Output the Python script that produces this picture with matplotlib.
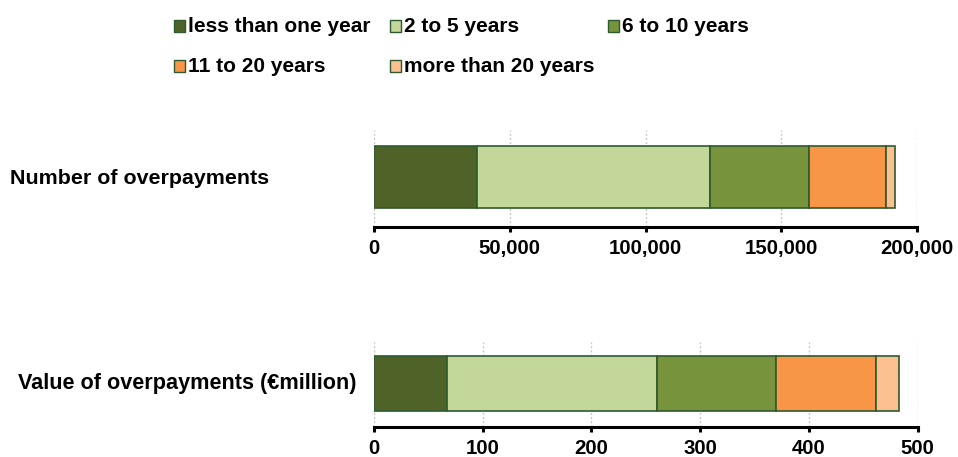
import numpy as np
import matplotlib
matplotlib.use('Agg')
import matplotlib.pyplot as plt
from matplotlib.patches import Rectangle

plt.rcParams['font.family'] = ['Liberation Sans', 'DejaVu Sans']
plt.rcParams['font.weight'] = 'bold'

# overpayments broken down by how long they went undetected
periods = ['less than one year', '2 to 5 years', '6 to 10 years',
           '11 to 20 years', 'more than 20 years']
colours = ['#4f6228', '#c4d79b', '#77933c', '#f79646', '#fac090']
edge_col = '#2f5a2f'

number_vals = [38000, 85800, 36300, 28600, 3300]
value_vals = [67, 193.5, 109, 92, 21.5]

row_labels = ['Number of overpayments', 'Value of overpayments (\u20acmillion)']
number_ticks = [0, 50000, 100000, 150000, 200000]
value_ticks = [0, 100, 200, 300, 400, 500]

fig = plt.figure(figsize=(9.58, 4.57), dpi=100)
W, H = 958, 457

def px_axes(x0, y0, x1, y1):
    return fig.add_axes([x0 / W, 1 - y1 / H, (x1 - x0) / W, (y1 - y0) / H])

ax1 = px_axes(374, 130, 917, 226.5)
ax2 = px_axes(374, 342, 917.5, 427)

def stacked(ax, vals, ticks, ylim, fmt):
    left = 0
    for v, c in zip(vals, colours):
        ax.barh(0, v, left=left, height=1.0, color=c, edgecolor=edge_col, linewidth=1.2, zorder=3)
        left += v
    ax.set_xlim(ticks[0], ticks[-1])
    ax.set_ylim(*ylim)
    ax.set_xticks(ticks)
    ax.set_xticklabels([fmt(t) for t in ticks], fontsize=14.7, fontweight='bold')
    ax.set_yticks([])
    for s in ['top', 'left', 'right']:
        ax.spines[s].set_visible(False)
    ax.spines['bottom'].set_linewidth(2.2)
    ax.tick_params(axis='x', direction='out', length=3.5, width=2.2, pad=5.5)
    ax.grid(axis='x', linestyle=(0, (1.5, 1.5)), color='#c8c8c8', linewidth=1, zorder=0)
    ax.set_facecolor('none')

stacked(ax1, number_vals, number_ticks, (-0.791, 0.751), lambda t: f'{t:,}')
stacked(ax2, value_vals, value_ticks, (-0.789, 0.748), lambda t: f'{t}')

fig.text(10 / W, 1 - 178 / H, row_labels[0], fontsize=15.4, fontweight='bold', va='center', ha='left')
fig.text(18 / W, 1 - 384 / H, row_labels[1], fontsize=15.6, fontweight='bold', va='center', ha='left')

# legend: three equal-width columns, filled row by row
leg_x = [174, 390, 608]
leg_y = [26, 66]
for i, (lab, c) in enumerate(zip(periods, colours)):
    x = leg_x[i % 3]
    y = leg_y[i // 3]
    fig.patches.append(Rectangle((x / W, 1 - (y + 6) / H), 11 / W, 12 / H,
                                 transform=fig.transFigure, facecolor=c,
                                 edgecolor=edge_col, linewidth=1))
    fig.text((x + 14) / W, 1 - y / H, lab, fontsize=15, fontweight='bold',
             va='center', ha='left')

fig.savefig('out.png', dpi=100)
